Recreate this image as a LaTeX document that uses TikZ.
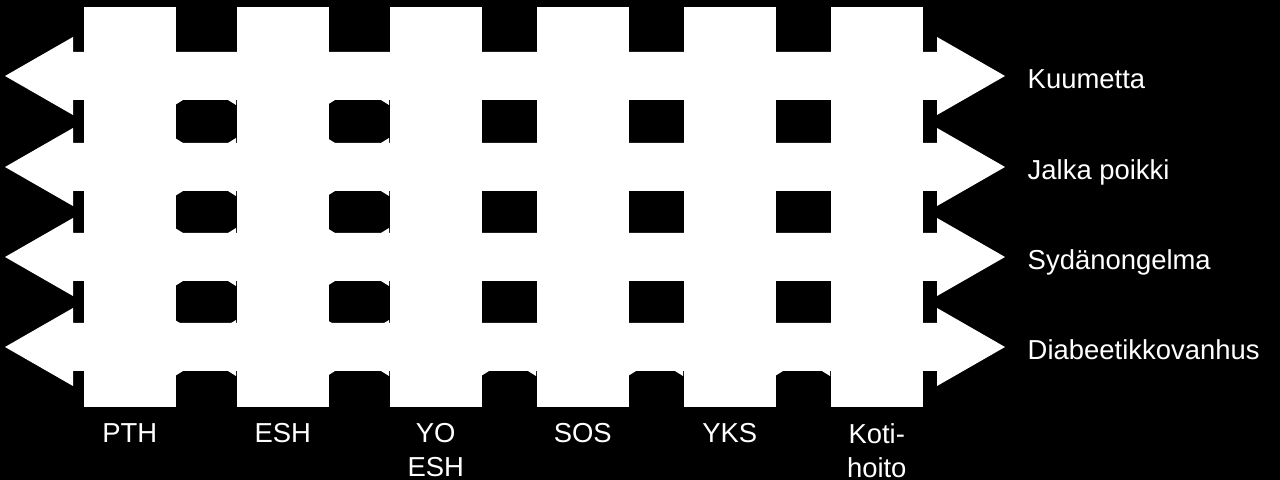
\documentclass[tikz,border=0pt]{standalone}
\usepackage{fontspec}
\setmainfont{Liberation Sans}
\usetikzlibrary{positioning}

\begin{document}
\begin{tikzpicture}[
    x=0.01cm,
    y=-0.01cm,
    paalu/.style={
      rectangle,
      fill=white,
      inner sep=0pt,
      minimum width=0.92cm,
      minimum height=4cm,
      anchor=north west
    },
    paikka/.style={
      text=white,
      inner sep=0pt,
      font=\fontsize{7.8}{9.7}\selectfont,
      align=center
    },
    vaiva/.style={
      text=white,
      inner sep=0pt,
      font=\fontsize{7.8}{9.7}\selectfont,
      text height=0.716em,
      text depth=0pt
    }
  ]

  \fill[black] (0,0) rectangle (1280,480);
  \useasboundingbox (0,0) rectangle (1280,480);

  % pylvaat
  \foreach \x/\i in {83/1,236/2,389/3,536/4,683/5,830/6}
    \node (col\i) at (\x,6) [paalu] {};

  % nuolet
  \foreach \y/\i in {76/1,167/2,257/3,347/4}{
    \fill[white] (5,\y) -- (73,\y-39) -- (73,\y-24) -- (937,\y-24)
      -- (937,\y-39) -- (1005,\y) -- (937,\y+39) -- (937,\y+24)
      -- (73,\y+24) -- (73,\y+39) -- cycle;
    \coordinate (tip\i) at (1005,\y);
  }

  % viistetyt kulmat
  \foreach \l/\r in {175/236,327/389}
    \foreach \t/\b in {100/143,191/233,281/325}{
      \fill[white] (\l,\t) -- ++(8,0) -- ++(-8,5) -- cycle;
      \fill[white] (\r,\t) -- ++(-8,0) -- ++(8,5) -- cycle;
      \fill[white] (\l,\b) -- ++(8,0) -- ++(-8,-5) -- cycle;
      \fill[white] (\r,\b) -- ++(-8,0) -- ++(8,-5) -- cycle;
    }
  \foreach \l/\r in {175/236,327/389,481/536,628/683,775/830}{
    \fill[white] (\l,371) -- ++(8,0) -- ++(-8,5) -- cycle;
    \fill[white] (\r,371) -- ++(-8,0) -- ++(8,5) -- cycle;
  }

  \node (kuume) [vaiva,right=0.22cm of tip1] {Kuumetta};
  \node (jalka) [vaiva,right=0.22cm of tip2] {Jalka poikki};
  \node (sydan) [vaiva,right=0.22cm of tip3] {Sydänongelma};
  \node (diab) [vaiva,right=0.22cm of tip4] {Diabeetikkovanhus};

  \node (pth) [paikka,below=0.15cm of col1] {PTH};
  \node (esh) [paikka,below=0.15cm of col2] {ESH};
  \node (yoesh) [paikka,below=0.15cm of col3] {YO\\ESH};
  \node (sos) [paikka,below=0.15cm of col4] {SOS};
  \node (yks) [paikka,below=0.15cm of col5] {YKS};
  \node (koti) [paikka,below=0.15cm of col6] {Koti-\\hoito};

\end{tikzpicture}
\end{document}
